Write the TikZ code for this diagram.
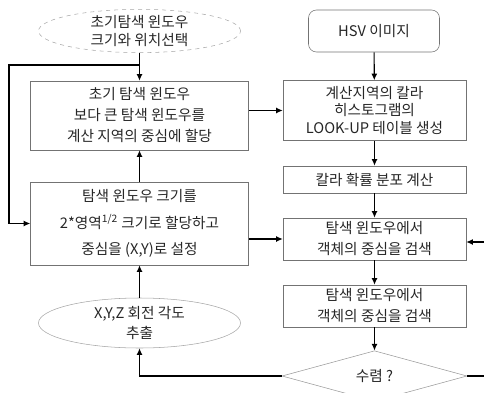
\documentclass[tikz,border=0pt]{standalone}
\usepackage{fontspec}
\setmainfont{Noto Sans CJK KR}
\usetikzlibrary{shapes.geometric, calc, arrows.meta}

\begin{document}
\begin{tikzpicture}[x=0.75pt, y=-0.75pt]

        \tikzstyle{boxnode} = [draw=black!55, rectangle, align=center, inner sep=0, text=black!85, font=\fontsize{11}{15.75}\selectfont];
        \tikzstyle{ovalnode} = [draw=black!35, ellipse, align=center, inner sep=0, text=black!85, font=\fontsize{11}{15}\selectfont];
        \tikzstyle{diamondnode} = [draw=black!40, diamond, align=center, inner sep=0, text=black!85, font=\fontsize{11}{15}\selectfont];
        \tikzstyle{arrow} = [line width=0.8pt, ->, >={Latex[length=5pt, width=4.5pt]}];
        \tikzstyle{line} = [line width=0.8pt];

        \useasboundingbox (0,0) rectangle (484,392);

        % Left - Window
        \node[ovalnode, dashed, minimum width=151.5pt, minimum height=32.25pt, font=\fontsize{11}{13}\selectfont] (SEL) at (139.5,31) {초기탐색 윈도우\\크기와 위치선택};

        \node[boxnode, minimum width=163.5pt, minimum height=51.75pt] (ASG) at (139.5,115.5) {초기 탐색 윈도우\\보다 큰 탐색 윈도우를\\계산 지역의 중심에 할당};

        \node[boxnode, minimum width=163.5pt, minimum height=62.25pt, font=\fontsize{11}{20}\selectfont] (SIZE) at (139.5,223.5) {탐색 윈도우 크기를\\2*영역\textsuperscript{1/2} 크기로 할당하고\\중심을 (X,Y)로 설정};

        \node[ovalnode, minimum width=151.5pt, minimum height=37.5pt] (ROT) at (139.5,323) {X,Y,Z 회전 각도\\추출};

        \coordinate (LOOPT) at (139.5,65);
        \coordinate (LOOPL) at (9,65);

        \draw [arrow] (SEL) -- (ASG);
        \draw [arrow] (LOOPT) -- (LOOPL) |- (SIZE.west);
        \draw [arrow] (SIZE) -- (ASG);
        \draw [arrow] (ROT) -- (SIZE);
        % Left - Window

        % Right - Color
        \node[boxnode, rounded corners=6pt, minimum width=98.25pt, minimum height=31.5pt] (HSV) at (374,31) {HSV 이미지};

        \node[boxnode, minimum width=137.25pt, minimum height=45pt, font=\fontsize{11}{13}\selectfont] (LUT) at (374.5,110.5) {계산지역의 칼라\\히스토그램의\\LOOK-UP 테이블 생성};

        \node[boxnode, minimum width=137.25pt, minimum height=20.25pt] (PROB) at (374.5,179.5) {칼라 확률 분포 계산};

        \node[boxnode, minimum width=137.25pt, minimum height=31.5pt] (FIND1) at (374.5,239) {탐색 윈도우에서\\객체의 중심을 검색};

        \node[boxnode, minimum width=137.25pt, minimum height=31.5pt] (FIND2) at (374.5,306) {탐색 윈도우에서\\객체의 중심을 검색};

        \node[diamondnode, minimum width=138.75pt, minimum height=28.5pt] (CONV) at (374.5,376) {수렴 ?};

        \coordinate (BACKB) at (488,376);
        \coordinate (BACKT) at (488,242);

        \draw [arrow] (HSV) -- (LUT);
        \draw [arrow] (LUT) -- (PROB);
        \draw [arrow] (PROB) -- (FIND1);
        \draw [arrow] (FIND1) -- (FIND2);
        \draw [arrow] (FIND2) -- (CONV);

        \draw [arrow] (ASG.east |- LUT.west) -- (LUT.west);
        \draw [arrow] (SIZE.east |- FIND1.west) -- (FIND1.west);
        \draw [arrow] (CONV.east) -- (BACKB) -- (BACKT) -- (FIND1.east |- BACKT);
        \draw [arrow] (CONV.west) -| (ROT.south);
        % Right - Color

\end{tikzpicture}
\end{document}
